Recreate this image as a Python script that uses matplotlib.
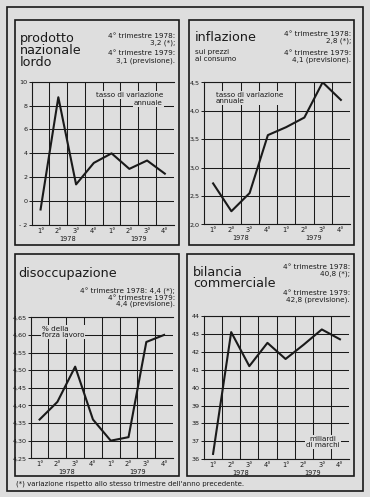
import matplotlib
matplotlib.use('Agg')
import matplotlib.pyplot as plt
from matplotlib.patches import Rectangle

W, H = 370, 497
BG = '#dedede'
INK = '#1a1a1a'

quarters = ['1°', '2°', '3°', '4°', '1°', '2°', '3°', '4°']
years = ['1978', '1979']

# prodotto nazionale lordo, tasso di variazione annuale
pnl = [-0.7, 8.7, 1.4, 3.2, 4.0, 2.7, 3.4, 2.3]
pnl_ticks = [-2, 0, 2, 4, 6, 8, 10]
pnl_labels = ['- 2', '0', '2', '4', '6', '8', '10']

# inflazione, prezzi al consumo
infl = [2.72, 2.23, 2.55, 3.57, 3.71, 3.88, 4.50, 4.19]
infl_ticks = [2.0, 2.5, 3.0, 3.5, 4.0, 4.5]
infl_labels = ['2,0', '2,5', '3,0', '3,5', '4,0', '4,5']

# disoccupazione, % della forza lavoro
disocc = [4.36, 4.41, 4.51, 4.36, 4.30, 4.31, 4.58, 4.60]
disocc_ticks = [4.25, 4.30, 4.35, 4.40, 4.45, 4.50, 4.55, 4.60, 4.65]
disocc_labels = ['4,25', '4,30', '4,35', '4,40', '4,45', '4,50', '4,55',
                 '4,60', '4,65']

# bilancia commerciale, miliardi di marchi
bilancia = [36.3, 43.1, 41.2, 42.5, 41.6, 42.4, 43.25, 42.7]
bil_ticks = [36, 37, 38, 39, 40, 41, 42, 43, 44]
bil_labels = [str(t) for t in bil_ticks]


def fx(x):
    return x / W


def fy(y):
    return 1 - y / H


def frame(x0, y0, x1, y1, lw):
    fig.add_artist(Rectangle((fx(x0), fy(y1)), (x1 - x0) / W, (y1 - y0) / H,
                             transform=fig.transFigure, fill=False,
                             lw=lw, ec=INK))


def put(x, y, s, size, ha='left', boxed=False, ls=1.0):
    # y is the baseline of the last line, in pixels from the top
    kw = {}
    if boxed:
        kw['bbox'] = dict(boxstyle='square,pad=0.15', fc=BG, ec='none')
    fig.text(fx(x), fy(y), s, fontsize=size, ha=ha, va='baseline',
             multialignment=ha, linespacing=ls, color=INK, zorder=5, **kw)


def panel(x0, y0, x1, y1, values, ticks, labels):
    ax = fig.add_axes([fx(x0), fy(y1), (x1 - x0) / W, (y1 - y0) / H])
    ax.set_facecolor('none')
    ax.plot(range(8), values, color=INK, lw=1.5, zorder=3)
    ax.set_xlim(-0.5, 7.5)
    ax.set_ylim(ticks[0], ticks[-1])
    ax.set_yticks(ticks, labels)
    ax.set_xticks(range(8), quarters)
    ax.set_xticks([i + 0.5 for i in range(7)], minor=True)
    ax.grid(True, which='major', axis='y', color=INK, lw=0.75)
    ax.grid(True, which='minor', axis='x', color=INK, lw=0.75)
    ax.tick_params(axis='x', which='both', length=0, labelsize=4.8, pad=2,
                   colors=INK)
    ax.tick_params(axis='y', length=2, width=0.7, labelsize=4.6, pad=1,
                   colors=INK)
    ax.spines['right'].set_visible(False)
    for s in ['left', 'bottom', 'top']:
        ax.spines[s].set_linewidth(0.8)
        ax.spines[s].set_color(INK)
    for i, yr in enumerate(years):
        ax.text(1.5 + 4 * i, -0.075, yr, transform=ax.get_xaxis_transform(),
                ha='center', va='top', fontsize=4.8, color=INK)
    return ax


fig = plt.figure(figsize=(W / 100, H / 100), dpi=100, facecolor=BG)

frame(7, 7, 363, 491, 1.2)
frame(15, 20, 179, 245, 1.2)
frame(189, 20, 354, 245, 1.2)
frame(15, 254, 179, 476, 1.2)
frame(187, 254, 354, 476, 1.2)

panel(31.7, 81.7, 173.7, 225, pnl, pnl_ticks, pnl_labels)
panel(204, 82.3, 350, 224.3, infl, infl_ticks, infl_labels)
panel(30.7, 317.3, 173, 458.3, disocc, disocc_ticks, disocc_labels)
panel(204, 316, 349, 459.3, bilancia, bil_ticks, bil_labels)

# prodotto nazionale lordo
put(20, 65.7, 'prodotto\nnazionale\nlordo', 9.2, ls=0.88)
put(175, 44.3, '4° trimestre 1978:\n3,2 (*);', 5.2, 'right', ls=1.15)
put(175, 62, '4° trimestre 1979:\n3,1 (previsione).', 5.2, 'right', ls=1.15)
put(163, 96.7, 'tasso di variazione', 5.2, 'right', boxed=True)
put(163, 105, 'annuale', 5.2, 'right', boxed=True)

# inflazione
put(195, 40.7, 'inflazione', 9.2)
put(195, 61, 'sui prezzi\nal consumo', 5.2, ls=1.15)
put(351, 42.7, '4° trimestre 1978:\n2,8 (*);', 5.2, 'right', ls=1.15)
put(351, 61.7, '4° trimestre 1979:\n4,1 (previsione).', 5.2, 'right',
    ls=1.15)
put(216, 103.3, 'tasso di variazione\nannuale', 5.2, boxed=True)

# disoccupazione
put(18.3, 276.7, 'disoccupazione', 9.2)
put(175, 305.3, '4° trimestre 1978: 4,4 (*);\n4° trimestre 1979:\n'
    '4,4 (previsione).', 5.2, 'right', ls=0.95)
put(41.7, 336.7, '% della\nforza lavoro', 5.2, boxed=True)

# bilancia commerciale
put(193.3, 287.3, 'bilancia\ncommerciale', 9.2, ls=0.78)
put(350, 275.3, '4° trimestre 1978:\n40,8 (*);', 5.2, 'right', ls=1.05)
put(350, 301.7, '4° trimestre 1979:\n42,8 (previsione).', 5.2, 'right',
    ls=1.05)
put(323, 447.3, 'miliardi\ndi marchi', 5.2, 'center', boxed=True, ls=1.05)

put(16, 485.5, "(*) variazione rispetto allo stesso trimestre "
    "dell'anno precedente.", 5.0)

fig.savefig('out.png', dpi=100, facecolor=BG)
